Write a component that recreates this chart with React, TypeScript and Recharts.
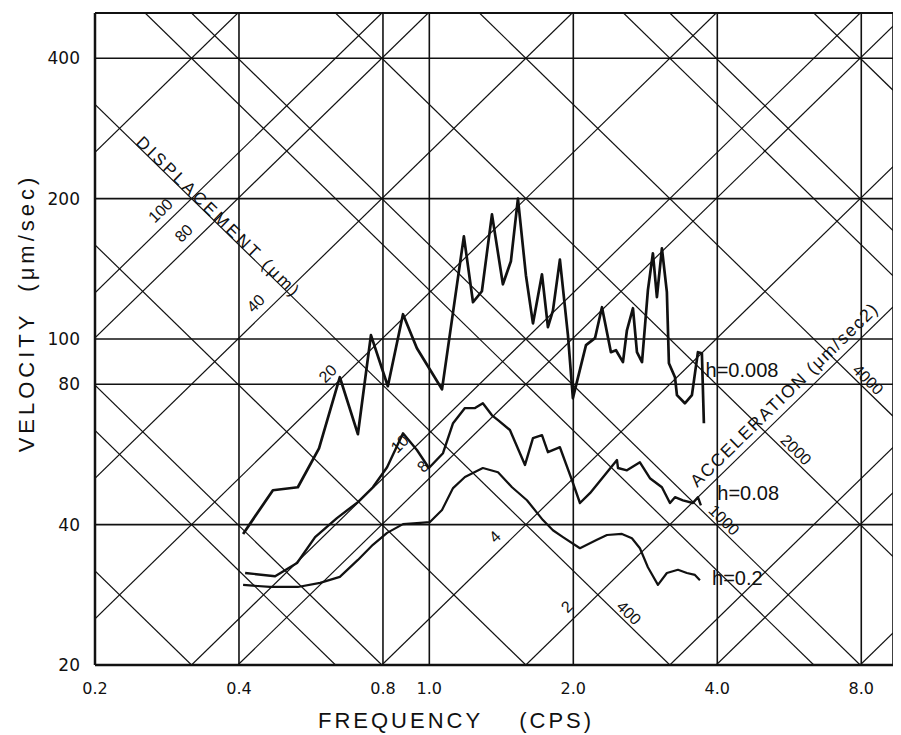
import React from 'react';
import { CartesianGrid, Line, LineChart, ReferenceDot, ReferenceLine, XAxis, YAxis } from 'recharts';

// axes (the right edge of the sheet cuts the frequency axis short of 10)
const freqTicks = [0.2, 0.4, 0.8, 1.0, 2.0, 4.0, 8.0];
const velTicks = [20, 40, 80, 100, 200, 400];
const freqDomain = [0.2, 9.32];
const velDomain = [20, 500];

// tripartite grid values
const dispLines = [0.4, 0.8, 1, 2, 4, 8, 10, 20, 40, 80, 100, 200]; // μm
const accLines = [40, 80, 100, 200, 400, 800, 1000, 2000, 4000, 8000, 10000, 20000]; // μm/sec2
const dispLabels = [100, 80, 40, 20, 10, 8, 4, 2];
const accLabels = [400, 1000, 2000, 4000];
const dispLabelAcc = 400; // displacement numbers sit along this acceleration line
const accLabelDisp = 2; // acceleration numbers sit along this displacement line

// response spectra
const freqH008 = [0.408, 0.471, 0.531, 0.588, 0.65, 0.709, 0.755, 0.819, 0.881, 0.942, 1.063, 1.181, 1.234, 1.288, 1.352, 1.425, 1.481, 1.532, 1.592, 1.647, 1.72, 1.77, 1.813, 1.875, 1.949, 1.996, 2.126, 2.22, 2.296, 2.397, 2.456, 2.54, 2.589, 2.665, 2.717, 2.784, 2.864, 2.934, 2.991, 3.064, 3.138, 3.169, 3.263, 3.294, 3.422, 3.54, 3.644, 3.714, 3.75];
const velH008 = [38.2, 47.4, 48.1, 58.3, 82.8, 62.5, 101.9, 79.2, 113, 95.5, 78.0, 166, 119.9, 126.6, 185, 131, 146.8, 200, 137, 108, 137.6, 106, 115, 148, 101.9, 74.7, 97, 100.4, 117, 93.7, 94.6, 89.2, 104.4, 116.4, 93.7, 89.2, 127.2, 152.7, 122.9, 156.5, 126, 88.7, 82.8, 75.8, 72.8, 75.8, 93.7, 93.2, 66];

const freqH08 = [0.412, 0.476, 0.529, 0.577, 0.641, 0.709, 0.762, 0.816, 0.881, 0.942, 0.998, 1.068, 1.121, 1.187, 1.246, 1.294, 1.352, 1.392, 1.474, 1.585, 1.647, 1.72, 1.77, 1.849, 1.875, 1.987, 2.065, 2.167, 2.468, 2.48, 2.589, 2.756, 2.892, 3.064, 3.185, 3.263, 3.39, 3.558, 3.644, 3.696];
const velH08 = [31.5, 31.0, 33.1, 37.6, 41.3, 44.7, 48.1, 53.1, 62.8, 57.8, 52.9, 56.9, 66, 71.1, 71.1, 72.8, 68.6, 67.0, 63.8, 53.7, 61.3, 62.2, 57.2, 58.3, 58.6, 49.8, 44.5, 46.7, 55.0, 52.9, 52.3, 54.4, 50.3, 48.1, 44.5, 45.8, 45.1, 44.5, 45.8, 44.0];

const freqH2 = [0.408, 0.464, 0.531, 0.591, 0.65, 0.709, 0.762, 0.816, 0.881, 0.942, 1.003, 1.063, 1.121, 1.187, 1.294, 1.392, 1.489, 1.6, 1.728, 1.813, 1.903, 2.065, 2.241, 2.352, 2.528, 2.652, 2.756, 2.864, 3.006, 3.138, 3.31, 3.456, 3.592, 3.679];
const velH2 = [29.7, 29.4, 29.4, 30.0, 30.9, 33.6, 36.2, 38.4, 40.1, 40.3, 40.5, 43.0, 47.9, 50.6, 52.9, 51.8, 48.1, 45.1, 40.9, 38.9, 37.6, 35.6, 37.1, 38.0, 38.2, 37.4, 35.6, 32.4, 29.7, 31.5, 32.0, 31.5, 31.2, 30.4];

// curve labels
const curveNames = ['h=0.008', 'h=0.08', 'h=0.2'];
const curveNameFreq = [3.78, 4.0, 3.9];
const curveNameVel = [82.8, 45.1, 29.7];

const TWO_PI = 2 * Math.PI;
const INK = '#111';
const ANGLE = 44.3;
const FONT = '"Liberation Sans", Arial, sans-serif';

const zip = (fs: number[], vs: number[]) => fs.map((f, i) => ({ f, v: vs[i] }));

function dispSegment(d: number) {
  const f1 = Math.max(freqDomain[0], velDomain[0] / (TWO_PI * d));
  const f2 = Math.min(freqDomain[1], velDomain[1] / (TWO_PI * d));
  if (f1 >= f2) return null;
  return [{ x: f1, y: TWO_PI * f1 * d }, { x: f2, y: TWO_PI * f2 * d }];
}

function accSegment(a: number) {
  const f1 = Math.max(freqDomain[0], a / (TWO_PI * velDomain[1]));
  const f2 = Math.min(freqDomain[1], a / (TWO_PI * velDomain[0]));
  if (f1 >= f2) return null;
  return [{ x: f1, y: a / (TWO_PI * f1) }, { x: f2, y: a / (TWO_PI * f2) }];
}

// point where a displacement line meets an acceleration line
function meet(d: number, a: number) {
  const v = Math.sqrt(a * d);
  return { f: v / (TWO_PI * d), v };
}

const rotText = (text: string, angle: number, dx: number, dy: number, size: number, anchor = 'middle', baseline = 'central', spacing = 0) =>
  (p: any) => (
    <text
      transform={`translate(${p.cx + dx},${p.cy + dy}) rotate(${angle})`}
      textAnchor={anchor}
      dominantBaseline={baseline}
      fontSize={size}
      fontFamily={FONT}
      letterSpacing={spacing}
      fill={INK}
    >
      {text}
    </text>
  );

export default function App() {
  const diagStyle = { stroke: INK, strokeWidth: 1.2 };
  return (
    <div style={{ position: 'relative', width: 885, height: 727, background: '#fff' }}>
      <LineChart width={885} height={727} margin={{ top: 5, right: 0, left: 27, bottom: 40 }}>
        <CartesianGrid stroke={INK} strokeWidth={1.6} />
        <XAxis
          dataKey="f"
          type="number"
          scale="log"
          domain={freqDomain}
          ticks={freqTicks}
          allowDataOverflow
          height={30}
          tickFormatter={(v: number) => v.toFixed(1)}
          tickLine={false}
          tickSize={6}
          tickMargin={12}
          axisLine={{ stroke: INK, strokeWidth: 2.5 }}
          tick={{ fill: INK, fontSize: 16, fontFamily: '"DejaVu Sans", sans-serif' }}
        />
        <YAxis
          type="number"
          scale="log"
          domain={velDomain}
          ticks={velTicks}
          allowDataOverflow
          width={60}
          tickLine={false}
          tickSize={6}
          tickMargin={9}
          axisLine={{ stroke: INK, strokeWidth: 2.5 }}
          tick={{ fill: INK, fontSize: 17, fontFamily: '"DejaVu Sans", sans-serif' }}
        />
        <ReferenceLine y={velDomain[1]} stroke={INK} strokeWidth={2.2} ifOverflow="visible" />

        {dispLines.map((d) => {
          const seg = dispSegment(d);
          return seg ? <ReferenceLine key={`d${d}`} segment={seg} {...diagStyle} ifOverflow="hidden" /> : null;
        })}
        {accLines.map((a) => {
          const seg = accSegment(a);
          return seg ? <ReferenceLine key={`a${a}`} segment={seg} {...diagStyle} ifOverflow="hidden" /> : null;
        })}

        <Line data={zip(freqH008, velH008)} dataKey="v" type="linear" stroke={INK} strokeWidth={2.7} strokeLinejoin="round" dot={false} isAnimationActive={false} />
        <Line data={zip(freqH08, velH08)} dataKey="v" type="linear" stroke={INK} strokeWidth={2.4} strokeLinejoin="round" dot={false} isAnimationActive={false} />
        <Line data={zip(freqH2, velH2)} dataKey="v" type="linear" stroke={INK} strokeWidth={2.2} strokeLinejoin="round" dot={false} isAnimationActive={false} />

        {dispLabels.map((d) => {
          const m = meet(d, dispLabelAcc);
          return <ReferenceDot key={`dl${d}`} x={m.f} y={m.v} r={1} ifOverflow="visible" shape={rotText(String(d), -ANGLE, -31, 12, 16)} />;
        })}
        {accLabels.map((a) => {
          const m = meet(accLabelDisp, a);
          return <ReferenceDot key={`al${a}`} x={m.f} y={m.v} r={1} ifOverflow="visible" shape={rotText(String(a), ANGLE, 31, 18, 16)} />;
        })}

        <ReferenceDot x={0.356} y={dispLabelAcc / (TWO_PI * 0.356)} r={1} ifOverflow="visible"
          shape={rotText('DISPLACEMENT (μm)', ANGLE, 0, 0, 17, 'middle', 'auto', 3)} />
        <ReferenceDot x={3.72} y={TWO_PI * 3.72 * accLabelDisp} r={1} ifOverflow="visible"
          shape={(p: any) => (
            <text transform={`translate(${p.cx},${p.cy}) rotate(${-ANGLE})`} y={-7} fontSize={17.5} fontFamily={FONT} letterSpacing={1.7} fill={INK}>
              ACCELERATION (μm/sec2)
            </text>
          )} />

        {curveNames.map((name, i) => (
          <ReferenceDot key={name} x={curveNameFreq[i]} y={curveNameVel[i]} r={1} ifOverflow="visible"
            shape={rotText(name, 0, 0, 0, 20, 'start', 'auto')} />
        ))}
      </LineChart>

      <div style={{ position: 'absolute', left: 310, top: 702, fontFamily: FONT, fontSize: 22, lineHeight: '22px', letterSpacing: 3, whiteSpace: 'pre', color: INK }}>
        {'FREQUENCY    (CPS)'}
      </div>
      <div style={{ position: 'absolute', left: 19 - 150, top: 305 - 11, width: 300, textAlign: 'center', transform: 'rotate(-90deg)', fontFamily: FONT, fontSize: 22, lineHeight: '22px', letterSpacing: 4, whiteSpace: 'pre', color: INK }}>
        {'VELOCITY  (μm/sec)'}
      </div>
    </div>
  );
}
